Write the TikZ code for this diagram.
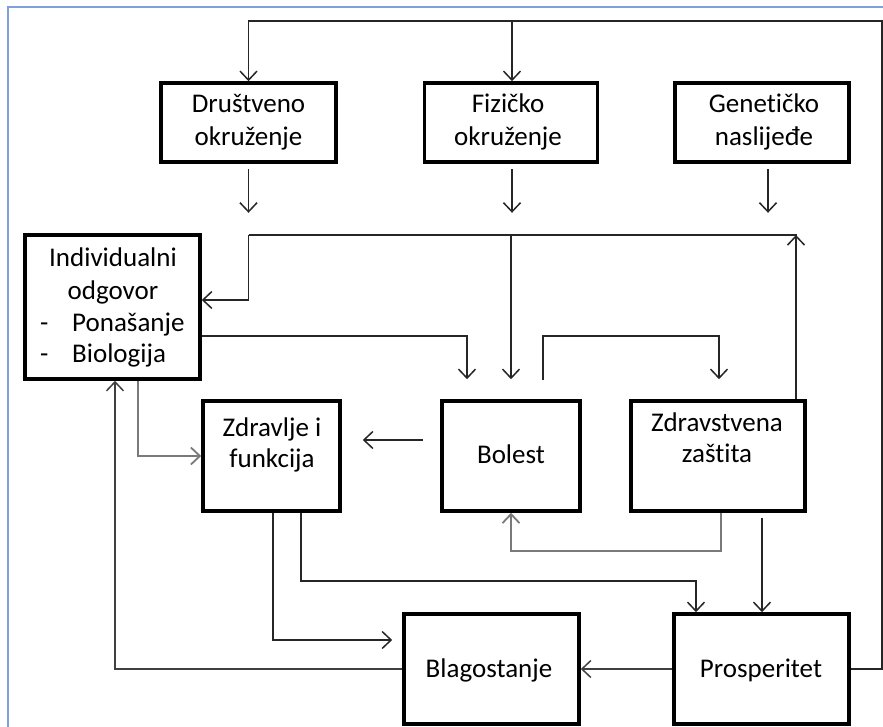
\documentclass[tikz,border=0pt]{standalone}
\usepackage{fontspec}
\setmainfont{Carlito}[RawFeature={-liga}]
\usetikzlibrary{arrows.meta,calc}
\definecolor{frameblue}{HTML}{7DA2DA}
\definecolor{linegray}{HTML}{7A7A7A}
\begin{document}
\begin{tikzpicture}[x=1pt,y=-1pt,
  box/.style={draw=black,line width=3.6pt,inner sep=0pt,fill=white},
  txt/.style={anchor=base,inner sep=0pt,font=\fontsize{27}{32}\selectfont},
  link/.style={line width=1.5pt,draw=black!85},
  arr/.style={link,-{Straight Barb[length=9pt,width=17pt]}},
  garr/.style={arr,draw=linegray,line width=1.8pt}]
\useasboundingbox (0,0) rectangle (883,727);

% outer frame
\draw[frameblue,line width=1.5pt] (8,727) -- (8,7) -- (883,7);

% boxes
\node[box,minimum width=175pt,minimum height=79pt]  (dru) at (248.5,122.5) {};
\node[box,minimum width=173pt,minimum height=79pt]  (fiz) at (511,122.5) {};
\node[box,minimum width=174pt,minimum height=79pt]  (gen) at (762,122.5) {};
\node[box,minimum width=175pt,minimum height=144pt] (ind) at (112.5,307) {};
\node[box,minimum width=137pt,minimum height=110pt] (zdr) at (271.5,456) {};
\node[box,minimum width=138pt,minimum height=110pt] (bol) at (511,456) {};
\node[box,minimum width=174pt,minimum height=110pt] (zas) at (718,456) {};
\node[box,minimum width=175pt,minimum height=110pt] (bla) at (491.5,669) {};
\node[box,minimum width=175pt,minimum height=110pt] (pro) at (761.5,669) {};

% labels
\node[txt] (dru1) at (248.5,113) {Društveno};
\node[txt] (dru2) at (248.5,146) {okruženje};
\node[txt] (fiz1) at (508,113) {Fizičko};
\node[txt] (fiz2) at (508,146) {okruženje};
\node[txt] (gen1) at (764,113) {Genetičko};
\node[txt] (gen2) at (764,146) {naslijeđe};
\node[txt] (ind1) at (113,267) {Individualni};
\node[txt] (ind2) at (113,299) {odgovor};
\node[txt,anchor=base west] (ind3) at (40,331) {\makebox[32pt][l]{-}Ponašanje};
\node[txt,anchor=base west] (ind4) at (40,362) {\makebox[32pt][l]{-}Biologija};
\node[txt] (zdr1) at (272,436) {Zdravlje i};
\node[txt] (zdr2) at (272,467) {funkcija};
\node[txt] (bol1) at (511,463) {Bolest};
\node[txt] (zas1) at (717,431) {Zdravstvena};
\node[txt] (zas2) at (717,462) {zaštita};
\node[txt] (bla1) at (489,677) {Blagostanje};
\node[txt] (pro1) at (761,677) {Prosperitet};

% feedback loop from Prosperitet over the top
\coordinate (topR) at (882,21);
\coordinate (topF) at (512,21);
\draw[arr] (pro.east) -| (topR) -| (dru.north);
\draw[arr] (topF) -- (topF |- fiz.north);

% short arrows below the top row
\draw[arr] ($(dru.south)+(0,5)$) -- ++(0,44);
\draw[arr] ($(fiz.south)+(1,5)$) -- ++(0,44);
\draw[arr] ($(gen.south)+(6,5)$) -- ++(0,44);

% bus line under the top row
\coordinate (busL) at (248.5,235);
\coordinate (busR) at (797,235);
\draw[link] (busL) -- (busR);
\draw[arr] (busL) |- ($(ind.east)+(0,-7)$);
\draw[arr] (bol.north |- busL) -- ($(bol.north)+(0,-20)$);
\draw[arr] ($(zas.north)+(78,0)$) -- ($(busR)+(-1,0)$);

% Individualni odgovor -> Bolest, Bolest -> Zdravstvena zastita
\draw[arr] ($(ind.east)+(0,29)$) -| ($(bol.north)+(-44,-20)$);
\draw[arr] ($(bol.north)+(32,-19)$) -- ($(bol.north)+(32,-63)$) -| ($(zas.north)+(1,-20)$);

% middle row
\draw[garr] ($(ind.south)+(25.5,0)$) |- (zdr.west);
\draw[arr] ($(bol.west)+(-17,-16)$) -- ($(zdr.east)+(21,-16)$);
\draw[garr] ($(zas.south)+(3,0)$) -- ++(0,38) -| (bol.south);

% into the bottom row
\draw[arr] ($(zas.south)+(44,5)$) -- ($(pro.north)+(0.5,0)$);
\draw[arr] ($(zdr.south)+(29.5,0)$) |- ($(pro.north)+(-65.5,-31)$) -- ($(pro.north)+(-65.5,0)$);
\draw[arr] ($(zdr.south)+(1.5,0)$) |- ($(bla.west)+(-10,-29)$);
\draw[arr,draw=black!75] (pro.west) -- (bla.east);
\draw[arr,draw=black!75] (bla.west) -| ($(ind.south)+(2.5,0)$);
\end{tikzpicture}
\end{document}
